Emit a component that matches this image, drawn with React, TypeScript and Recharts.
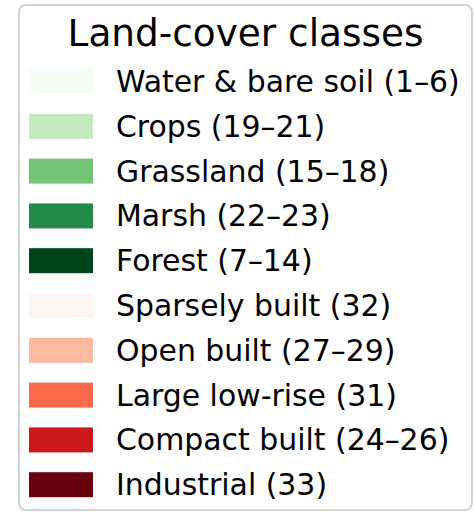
import React from "react";
import { PieChart, Pie, Cell, Legend } from "recharts";

const CLASS_NAMES = [
  "Water & bare soil (1–6)",
  "Crops (19–21)",
  "Grassland (15–18)",
  "Marsh (22–23)",
  "Forest (7–14)",
  "Sparsely built (32)",
  "Open built (27–29)",
  "Large low-rise (31)",
  "Compact built (24–26)",
  "Industrial (33)",
];

const CLASS_COLORS = [
  "#f7fcf5",
  "#c7e9c0",
  "#74c476",
  "#238b45",
  "#00441b",
  "#fff5f0",
  "#fcbba1",
  "#fb6a4a",
  "#cb181d",
  "#67000d",
];

const TITLE = "Land-cover classes";

const data = CLASS_NAMES.map((name, i) => ({ name, value: 1, color: CLASS_COLORS[i] }));

const FONT = "'DejaVu Sans', sans-serif";
const ROW_GAP = 44.8;

interface LegendItem {
  value?: string;
  color?: string;
}

function LegendBox({ payload }: { payload?: LegendItem[] }) {
  // recharts sorts legend items by name, put them back in class order
  const items: LegendItem[] = (
    payload && payload.length
      ? [...payload]
      : CLASS_NAMES.map((n, i) => ({ value: n, color: CLASS_COLORS[i] }))
  ).sort(
    (a, b) => CLASS_NAMES.indexOf(a.value ?? "") - CLASS_NAMES.indexOf(b.value ?? "")
  );
  return (
    <svg width={474} height={512} style={{ display: "block" }}>
      <rect
        x={19}
        y={5}
        width={453}
        height={505}
        rx={7}
        fill="#ffffff"
        stroke="#d3d3d3"
        strokeWidth={2}
      />
      <text
        x={245.5}
        y={46}
        textAnchor="middle"
        fontFamily={FONT}
        fontSize={37.4}
        fill="#000"
      >
        {TITLE}
      </text>
      {items.map((item, i) => (
        <g key={item.value}>
          <rect
            x={29}
            y={69 + ROW_GAP * i}
            width={64}
            height={25}
            fill={item.color}
          />
          <text
            x={116}
            y={92 + ROW_GAP * i}
            fontFamily={FONT}
            fontSize={29.9}
            fill="#000"
          >
            {item.value}
          </text>
        </g>
      ))}
    </svg>
  );
}

export default function App() {
  return (
    <div style={{ position: "absolute", left: 0, top: 0, width: 474, height: 512, background: "#fff" }}>
      <PieChart width={474} height={512} margin={{ top: 0, right: 0, bottom: 0, left: 0 }}>
        <Pie
          data={data}
          dataKey="value"
          nameKey="name"
          cx={-100}
          cy={-100}
          outerRadius={0}
          isAnimationActive={false}
        >
          {data.map((d) => (
            <Cell key={d.name} fill={d.color} />
          ))}
        </Pie>
        <Legend
          content={<LegendBox />}
          wrapperStyle={{ position: "absolute", left: 0, top: 0, width: 474, height: 512 }}
        />
      </PieChart>
    </div>
  );
}
